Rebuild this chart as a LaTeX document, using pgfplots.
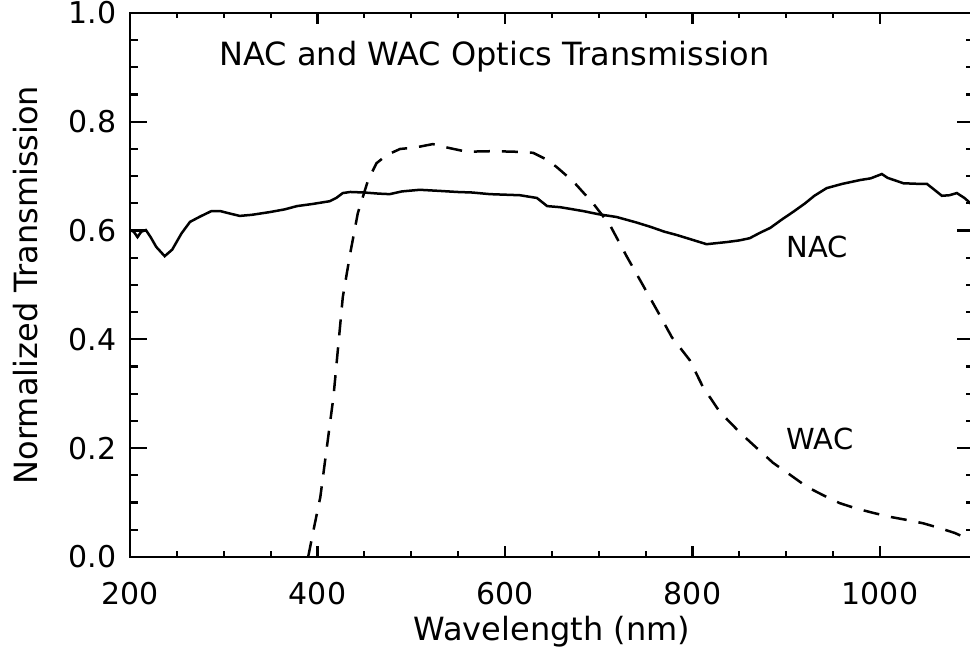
\documentclass[border=0pt]{standalone}
\usepackage{fontspec}
\setmainfont{DejaVu Sans}
\usepackage{pgfplots}
\pgfplotsset{compat=1.18}

% NAC and WAC optics transmission
\pgfplotstableread{
wl    t
200 0.601
204 0.598
208 0.588
212 0.598
217 0.601
222 0.588
228 0.570
237 0.553
245 0.565
255 0.595
264 0.616
275 0.626
287 0.636
296 0.636
305 0.632
317 0.627
330 0.629
349 0.634
365 0.639
378 0.645
395 0.649
413 0.654
420 0.660
427 0.669
435 0.671
450 0.670
465 0.668
477 0.667
490 0.672
509 0.675
530 0.673
549 0.671
565 0.670
584 0.667
600 0.666
616 0.665
634 0.660
645 0.645
659 0.643
683 0.636
700 0.630
719 0.625
740 0.615
755 0.607
770 0.598
783 0.592
800 0.583
815 0.575
826 0.577
837 0.579
850 0.582
861 0.586
872 0.596
883 0.605
895 0.620
907 0.634
920 0.650
930 0.664
943 0.678
960 0.686
979 0.693
990 0.696
996 0.700
1002 0.704
1008 0.697
1025 0.687
1040 0.686
1050 0.686
1058 0.675
1066 0.664
1074 0.665
1082 0.669
1090 0.660
1096 0.651
1100 0.645
}\nac

\pgfplotstableread{
wl    t
390 0.000
397 0.060
403 0.110
410 0.202
417 0.294
422 0.386
427 0.478
435 0.559
443 0.632
454 0.693
463 0.724
474 0.739
488 0.750
505 0.753
523 0.759
540 0.752
559 0.745
587 0.746
610 0.745
630 0.743
645 0.730
655 0.717
673 0.690
694 0.650
712 0.610
730 0.552
747 0.500
762 0.454
778 0.404
797 0.362
811 0.313
829 0.267
851 0.228
870 0.198
886 0.173
905 0.150
922 0.129
940 0.113
957 0.099
975 0.089
993 0.081
1010 0.074
1029 0.068
1046 0.062
1064 0.053
1080 0.044
1089 0.037
1100 0.028
}\wac

\begin{document}
\begin{tikzpicture}
\useasboundingbox (-65pt,-50.5pt) rectangle (420pt,278.5pt);
\begin{axis}[
    scale only axis,
    width=421.875pt, height=272pt,
    xmin=200, xmax=1100, ymin=0, ymax=1,
    xtick={200,400,...,1000},
    ytick={0,0.2,...,1.0},
    minor x tick num=3, minor y tick num=3,
    axis line style={line width=1.3pt},
    tick style={line width=1.1pt, black},
    xtick style={/pgfplots/major tick length=5.5pt, /pgfplots/minor tick length=2.75pt},
    ytick style={/pgfplots/major tick length=8.5pt, /pgfplots/minor tick length=4pt},
    /pgf/number format/assume math mode=true,
    /pgf/number format/1000 sep={},
    yticklabel style={/pgf/number format/fixed, /pgf/number format/fixed zerofill,
        /pgf/number format/precision=1, inner sep=0pt, anchor=east, xshift=-6.5pt},
    xticklabel style={inner sep=0pt, anchor=north, yshift=-12.5pt},
    tick label style={font=\fontsize{15}{18}\selectfont},
    xlabel={Wavelength (nm)},
    ylabel={Normalized Transmission},
    label style={font=\fontsize{16}{19}\selectfont},
    xlabel style={at={(axis description cs:0.5,0)}, anchor=north, inner sep=0pt, yshift=-29.5pt},
    ylabel style={at={([xshift=-58.5pt]axis description cs:0,0.5)}, rotate=0, anchor=north, inner sep=0pt},
]
\addplot[black, line width=1.25pt] table[x=wl, y=t] {\nac};
\addplot[black, line width=1.25pt, dash pattern=on 8pt off 6pt] table[x=wl, y=t] {\wac};
\node[anchor=base west, inner sep=0pt, font=\fontsize{16}{19}\selectfont] at (axis cs:295,0.903) {NAC and WAC Optics Transmission};
\node[anchor=base west, inner sep=0pt, font=\fontsize{14.5}{17}\selectfont] at (axis cs:900,0.551) {NAC};
\node[anchor=base west, inner sep=0pt, font=\fontsize{14.5}{17}\selectfont] at (axis cs:900,0.1985) {WAC};
\end{axis}
\end{tikzpicture}
\end{document}
